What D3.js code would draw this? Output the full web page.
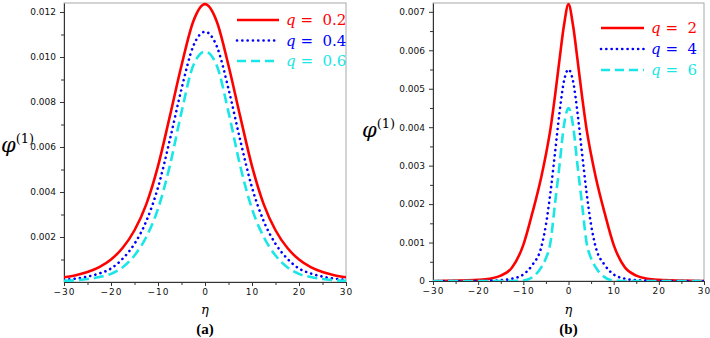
<!DOCTYPE html>
<html>
<head>
<meta charset="utf-8">
<script src="https://cdn.jsdelivr.net/npm/d3@7"></script>
<style>
  body { margin: 0; background: #fff; }
  svg { display: block; }
  .tick text { font-family: "DejaVu Sans", sans-serif; font-size: 9px; fill: #111; }
</style>
</head>
<body>
<div id="chart"></div>
<script>
// Panel (a): q = 0.2, 0.4, 0.6
const etaA = [-30, -27.5, -25, -22.5, -20, -17.5, -15, -12.5, -10, -7.5, -5, -2.5, 0,
              2.5, 5, 7.5, 10, 12.5, 15, 17.5, 20, 22.5, 25, 27.5, 30];
const phiA_q02 = [0.00021, 0.00030, 0.00044, 0.00066, 0.00100, 0.00152, 0.00230, 0.00345, 0.00515, 0.00735, 0.00962, 0.01158, 0.01235,
                  0.01158, 0.00962, 0.00735, 0.00515, 0.00345, 0.00230, 0.00152, 0.00100, 0.00066, 0.00044, 0.00030, 0.00021];
const phiA_q04 = [0.00010, 0.00015, 0.00024, 0.00038, 0.00060, 0.00104, 0.00170, 0.00270, 0.00420, 0.00630, 0.00858, 0.01048, 0.01112,
                  0.01048, 0.00858, 0.00630, 0.00420, 0.00270, 0.00170, 0.00104, 0.00060, 0.00038, 0.00024, 0.00015, 0.00010];
const phiA_q06 = [0.00005, 0.00008, 0.00013, 0.00022, 0.00036, 0.00066, 0.00118, 0.00200, 0.00325, 0.00515, 0.00755, 0.00962, 0.01024,
                  0.00962, 0.00755, 0.00515, 0.00325, 0.00200, 0.00118, 0.00066, 0.00036, 0.00022, 0.00013, 0.00008, 0.00005];

// Panel (b): q = 2, 4, 6
const etaB = [-30, -25, -20, -17.5, -15, -12.5, -10, -8, -6, -5, -4, -3, -2, -1, 0,
              1, 2, 3, 4, 5, 6, 8, 10, 12.5, 15, 17.5, 20, 25, 30];
const phiB_q2 = [0, 0.00001, 0.00003, 0.00006, 0.00014, 0.00035, 0.00094, 0.00177, 0.00272, 0.00329, 0.00395, 0.00480, 0.00575, 0.00665, 0.00720,
                 0.00665, 0.00575, 0.00480, 0.00395, 0.00329, 0.00272, 0.00177, 0.00094, 0.00035, 0.00014, 0.00006, 0.00003, 0.00001, 0];
const phiB_q4 = [0, 0, 0, 0.00001, 0.00002, 0.00006, 0.00017, 0.00042, 0.00089, 0.00146, 0.00230, 0.00332, 0.00437, 0.00520, 0.00550,
                 0.00520, 0.00437, 0.00332, 0.00230, 0.00146, 0.00089, 0.00042, 0.00017, 0.00006, 0.00002, 0.00001, 0, 0, 0];
const phiB_q6 = [0, 0, 0, 0, 0, 0, 0.00001, 0.00010, 0.00036, 0.00059, 0.00100, 0.00200, 0.00300, 0.00405, 0.00450,
                 0.00405, 0.00300, 0.00200, 0.00100, 0.00059, 0.00036, 0.00010, 0.00001, 0, 0, 0, 0, 0, 0];

const xTicks = [-30, -20, -10, 0, 10, 20, 30];
const yTicksA = [0.002, 0.004, 0.006, 0.008, 0.010, 0.012];
const yTicksB = [0, 0.001, 0.002, 0.003, 0.004, 0.005, 0.006, 0.007];
const qLabelsA = ['0.2', '0.4', '0.6'];
const qLabelsB = ['2', '4', '6'];

const colors = ['#ff0000', '#0000ff', '#19e6e6'];
const dashes = [null, '0.1 5.2', '10 5'];

const width = 710, height = 338;
const svg = d3.select('#chart').append('svg')
  .attr('width', width)
  .attr('height', height);

function drawPanel(opts) {
  const { id, eta, series, labels, xr, yr, yMax, yTicks, yMinor, fmt, legend, phiPos, tag } = opts;

  const x = d3.scaleLinear().domain([-30, 30]).range(xr);
  const y = d3.scaleLinear().domain([0, yMax]).range(yr);

  const g = svg.append('g');

  g.append('clipPath').attr('id', 'clip-' + id)
    .append('rect')
    .attr('x', xr[0]).attr('y', yr[1] - 2)
    .attr('width', xr[1] - xr[0]).attr('height', yr[0] - yr[1] + 2);

  // Grey frame
  g.append('rect')
    .attr('x', xr[0]).attr('y', yr[1])
    .attr('width', xr[1] - xr[0]).attr('height', yr[0] - yr[1])
    .attr('fill', 'none')
    .attr('stroke', '#a8a8a8');

  // Minor ticks
  const minorX = d3.range(-25, 30, 10);
  g.append('g')
    .attr('transform', `translate(0,${yr[0]})`)
    .call(d3.axisBottom(x).tickValues(minorX).tickSize(3).tickFormat(''))
    .call(a => a.select('.domain').remove())
    .selectAll('line').attr('stroke', '#333');
  g.append('g')
    .attr('transform', `translate(${xr[0]},0)`)
    .call(d3.axisLeft(y).tickValues(yMinor).tickSize(3).tickFormat(''))
    .call(a => a.select('.domain').remove())
    .selectAll('line').attr('stroke', '#333');

  // Main axes
  const xAxis = g.append('g')
    .attr('transform', `translate(0,${yr[0]})`)
    .call(d3.axisBottom(x).tickValues(xTicks).tickSize(4).tickSizeOuter(0).tickPadding(3));
  xAxis.select('.domain').attr('stroke', '#333');
  xAxis.selectAll('line').attr('stroke', '#333');
  xAxis.selectAll('text').style('letter-spacing', '1px');

  const yAxis = g.append('g')
    .attr('transform', `translate(${xr[0]},0)`)
    .call(d3.axisLeft(y).tickValues(yTicks).tickFormat(fmt).tickSize(4).tickSizeOuter(0).tickPadding(4));
  yAxis.select('.domain').attr('stroke', '#333');
  yAxis.selectAll('line').attr('stroke', '#333');

  // Curves
  const line = d3.line()
    .x(d => x(d[0]))
    .y(d => y(d[1]))
    .curve(d3.curveMonotoneX);

  const plot = g.append('g').attr('clip-path', `url(#clip-${id})`);
  series.forEach((vals, i) => {
    plot.append('path')
      .datum(eta.map((e, k) => [e, vals[k]]))
      .attr('fill', 'none')
      .attr('stroke', colors[i])
      .attr('stroke-width', 2.6)
      .attr('stroke-linecap', i === 1 ? 'round' : 'butt')
      .attr('stroke-dasharray', dashes[i])
      .attr('d', line);
  });

  // Legend
  labels.forEach((lab, i) => {
    const ly = legend.y + i * legend.dy;
    g.append('line')
      .attr('x1', legend.x1).attr('x2', legend.x2)
      .attr('y1', ly).attr('y2', ly)
      .attr('stroke', colors[i])
      .attr('stroke-width', 2.6)
      .attr('stroke-linecap', i === 1 ? 'round' : 'butt')
      .attr('stroke-dasharray', i === 2 ? '9 5' : dashes[i]);
    const t = g.append('text')
      .attr('x', legend.x2 + 7)
      .attr('y', ly + 5)
      .attr('fill', colors[i])
      .style('font-family', '"DejaVu Serif", serif')
      .style('font-size', '15px');
    t.append('tspan').style('font-style', 'italic').text('q');
    t.append('tspan').attr('xml:space', 'preserve').text(' =  ' + lab);
  });

  // Y label phi^(1)
  const phi = g.append('text')
    .attr('x', phiPos[0]).attr('y', phiPos[1])
    .style('font-family', '"DejaVu Serif", serif')
    .attr('fill', '#000');
  phi.append('tspan').style('font-style', 'italic').style('font-size', '21px').text('φ');
  phi.append('tspan').attr('dy', -9).style('font-size', '13px').text('(1)');

  // X label eta
  g.append('text')
    .attr('x', x(0)).attr('y', 314)
    .attr('text-anchor', 'middle')
    .style('font-family', '"DejaVu Serif", serif')
    .style('font-style', 'italic')
    .style('font-size', '13px')
    .text('η');

  g.append('text')
    .attr('x', x(0)).attr('y', 334)
    .attr('text-anchor', 'middle')
    .style('font-family', '"Liberation Serif", serif')
    .style('font-weight', 'bold')
    .style('font-size', '15px')
    .text(tag);
}

drawPanel({
  id: 'a',
  eta: etaA,
  series: [phiA_q02, phiA_q04, phiA_q06],
  labels: qLabelsA,
  xr: [64, 346],
  yr: [282, 3],
  yMax: 0.0124,
  yTicks: yTicksA,
  yMinor: [0.001, 0.003, 0.005, 0.007, 0.009, 0.011],
  fmt: d3.format('.3f'),
  legend: { x1: 237, x2: 279, y: 20, dy: 20.5 },
  phiPos: [1, 152],
  tag: '(a)'
});

drawPanel({
  id: 'b',
  eta: etaB,
  series: [phiB_q2, phiB_q4, phiB_q6],
  labels: qLabelsB,
  xr: [433, 704],
  yr: [281, 3],
  yMax: 0.00723,
  yTicks: yTicksB,
  yMinor: [0.0005, 0.0015, 0.0025, 0.0035, 0.0045, 0.0055, 0.0065],
  fmt: d => d === 0 ? '0' : d3.format('.3f')(d),
  legend: { x1: 601, x2: 644, y: 28, dy: 21 },
  phiPos: [362, 137],
  tag: '(b)'
});
</script>
</body>
</html>
